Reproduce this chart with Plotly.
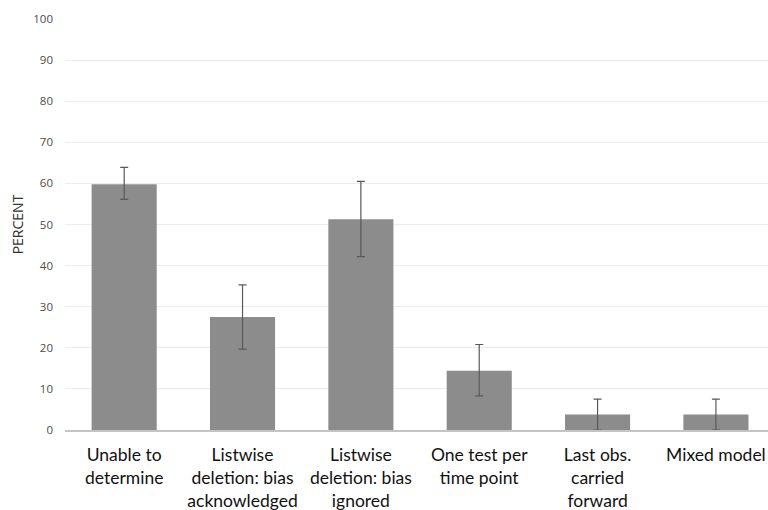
import plotly.graph_objects as go

categories = [
    "Unable to<br>determine",
    "Listwise<br>deletion: bias<br>acknowledged",
    "Listwise<br>deletion: bias<br>ignored",
    "One test per<br>time point",
    "Last obs.<br>carried<br>forward",
    "Mixed model",
]
percent = [59.8, 27.5, 51.3, 14.4, 3.8, 3.8]
err_plus = [4.1, 7.8, 9.2, 6.4, 3.7, 3.7]
err_minus = [3.7, 7.8, 9.1, 6.1, 3.8, 3.8]
y_ticks = [0, 10, 20, 30, 40, 50, 60, 70, 80, 90, 100]

fig = go.Figure(
    go.Bar(
        x=categories,
        y=percent,
        marker=dict(color="#8c8c8c", line=dict(width=0)),
        error_y=dict(
            type="data",
            symmetric=False,
            array=err_plus,
            arrayminus=err_minus,
            color="#595959",
            thickness=1.2,
            width=4,
        ),
        hoverinfo="skip",
    )
)

fig.update_layout(
    width=768,
    height=510,
    margin=dict(l=65, r=0, t=19, b=80),
    paper_bgcolor="white",
    plot_bgcolor="white",
    bargap=0.45,
    showlegend=False,
    xaxis=dict(
        range=[-0.5, 5.44],
        showgrid=False,
        showline=True,
        linecolor="#c4c4c4",
        linewidth=2,
        ticks="",
        tickangle=0,
        tickfont=dict(family="Lato, 'Open Sans', sans-serif", size=17.5, color="#111111"),
        ticklabelstandoff=8,
        automargin=False,
    ),
    yaxis=dict(
        range=[0, 100],
        tickvals=y_ticks,
        showgrid=True,
        gridcolor="#ededed",
        gridwidth=1,
        zeroline=False,
        showline=False,
        ticks="",
        ticklabelstandoff=11,
        tickfont=dict(family="'Open Sans', 'Noto Sans', sans-serif", size=11.5, color="#4d4d4d"),
        title=dict(
            text="PERCENT",
            font=dict(family="'Open Sans', 'Noto Sans', sans-serif", size=14, color="#333333"),
            standoff=6,
        ),
        automargin=False,
    ),
)

fig.write_html(
    "out.html",
    config={"displayModeBar": False},
    post_script="document.body.style.margin='0';document.body.style.overflow='hidden';",
)
